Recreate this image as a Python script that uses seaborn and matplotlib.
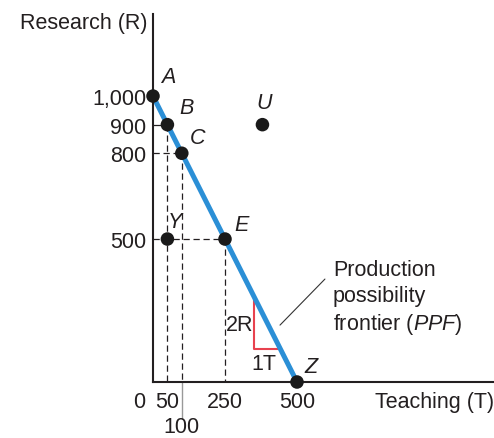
import matplotlib
matplotlib.use("Agg")
import matplotlib.pyplot as plt
import matplotlib.transforms as mtransforms
import pandas as pd
import seaborn as sns

# ------ DATA ------ #

ppf_teaching = [0, 500]
ppf_research = [1000, 0]

point_names = ["A", "B", "C", "E", "Z", "Y", "U"]
point_teaching = [0, 50, 100, 250, 500, 50, 380]
point_research = [1000, 900, 800, 500, 0, 500, 900]

x_ticks = [0, 50, 100, 250, 500]
x_tick_labels = ["0", "50", "100", "250", "500"]
y_ticks = [1000, 900, 800, 500]
y_tick_labels = ["1,000", "900", "800", "500"]

# slope triangle (2R for 1T)
tri_teaching = [350, 350, 442.5]
tri_research = [300, 115, 115]

# ------ STYLE ------ #

sns.set_style("white")
plt.rcParams["font.family"] = ["Liberation Sans", "DejaVu Sans"]
plt.rcParams["mathtext.fontset"] = "custom"
plt.rcParams["mathtext.rm"] = "Liberation Sans"
plt.rcParams["mathtext.it"] = "Liberation Sans:italic"

TXT = "#231f20"
BLUE = "#2b8fd6"
RED = "#e8424f"
FS = 15.5

fig = plt.figure(figsize=(4.94, 4.39), dpi=100)
ax = fig.add_axes([153 / 494, 56 / 439, 341 / 494, 368 / 439])

ax.set_xlim(0, 1184)
ax.set_ylim(0, 1287)

# ------ GUIDE LINES ------ #

dash = dict(color=TXT, lw=0.9, dashes=(5, 3), zorder=1)
ax.plot([0, 50], [900, 900], color=TXT, lw=0.9, zorder=1)
ax.plot([50, 50], [900, 0], **dash)
ax.plot([0, 100], [800, 800], **dash)
ax.plot([100, 100], [800, 0], **dash)
ax.plot([0, 250], [500, 500], **dash)
ax.plot([250, 250], [500, 0], **dash)

# ------ PPF ------ #

ppf = pd.DataFrame({"T": ppf_teaching, "R": ppf_research})
sns.lineplot(data=ppf, x="T", y="R", color=BLUE, lw=3.6, ax=ax, zorder=2)

ax.plot(tri_teaching, tri_research, color=RED, lw=1.5, zorder=1.5)
ax.text(tri_teaching[0] - 3, 200, "2R", ha="right", va="center", fontsize=FS, color=TXT)
ax.text(385, 66, "1T", ha="center", va="center", fontsize=FS, color=TXT)

pts = pd.DataFrame({"T": point_teaching, "R": point_research, "name": point_names})
sns.scatterplot(data=pts, x="T", y="R", color="#1a1a1a", s=95, edgecolor="none",
                ax=ax, zorder=4, clip_on=False)

offsets = {"A": (15, 20), "B": (19, 17), "C": (16, 16), "E": (17, 15),
           "Z": (14, 15), "Y": (8, 18), "U": (2, 22)}
for name, t, r in zip(point_names, point_teaching, point_research):
    ax.annotate(name, (t, r), xytext=offsets[name], textcoords="offset pixels",
                ha="center", va="center", fontsize=FS, style="italic", color=TXT)

# annotation
ax.plot([441, 597], [199, 360], color="#333333", lw=0.8)
ax.text(625, 430, "Production\npossibility\nfrontier ($\\mathit{PPF}$)",
        ha="left", va="top", fontsize=FS, color=TXT, linespacing=1.3)

# ------ AXES ------ #

sns.despine(ax=ax)
for side in ["left", "bottom"]:
    ax.spines[side].set_color(TXT)
    ax.spines[side].set_linewidth(1.5)

ax.set_yticks(y_ticks)
ax.set_yticklabels(y_tick_labels, fontsize=FS, color=TXT)
ax.tick_params(axis="y", length=0, pad=5)
ax.set_xticks([])
ax.set_xlabel("")
ax.set_ylabel("")

trans = mtransforms.blended_transform_factory(ax.transData, ax.transAxes)
for t, lab in zip(x_ticks, x_tick_labels):
    if t == 0:
        ax.annotate(lab, (t, 0), xycoords=trans, xytext=(-14, -20),
                    textcoords="offset pixels", ha="center", va="center",
                    fontsize=FS, color=TXT)
    elif t == 100:
        ax.plot([t, t], [0, -0.1], transform=trans, color="#999999", lw=1, clip_on=False)
        ax.annotate(lab, (t, 0), xycoords=trans, xytext=(0, -45),
                    textcoords="offset pixels", ha="center", va="center",
                    fontsize=FS, color=TXT)
    else:
        ax.annotate(lab, (t, 0), xycoords=trans, xytext=(0, -20),
                    textcoords="offset pixels", ha="center", va="center",
                    fontsize=FS, color=TXT)

ax.text(1.0, -20 / 368, "Teaching (T)", transform=ax.transAxes, ha="right",
        va="center", fontsize=FS, color=TXT)
ax.text(-6 / 341, 1.0 - 8 / 368, "Research (R)", transform=ax.transAxes, ha="right",
        va="center", fontsize=FS, color=TXT)

fig.savefig("out.png", dpi=100)
